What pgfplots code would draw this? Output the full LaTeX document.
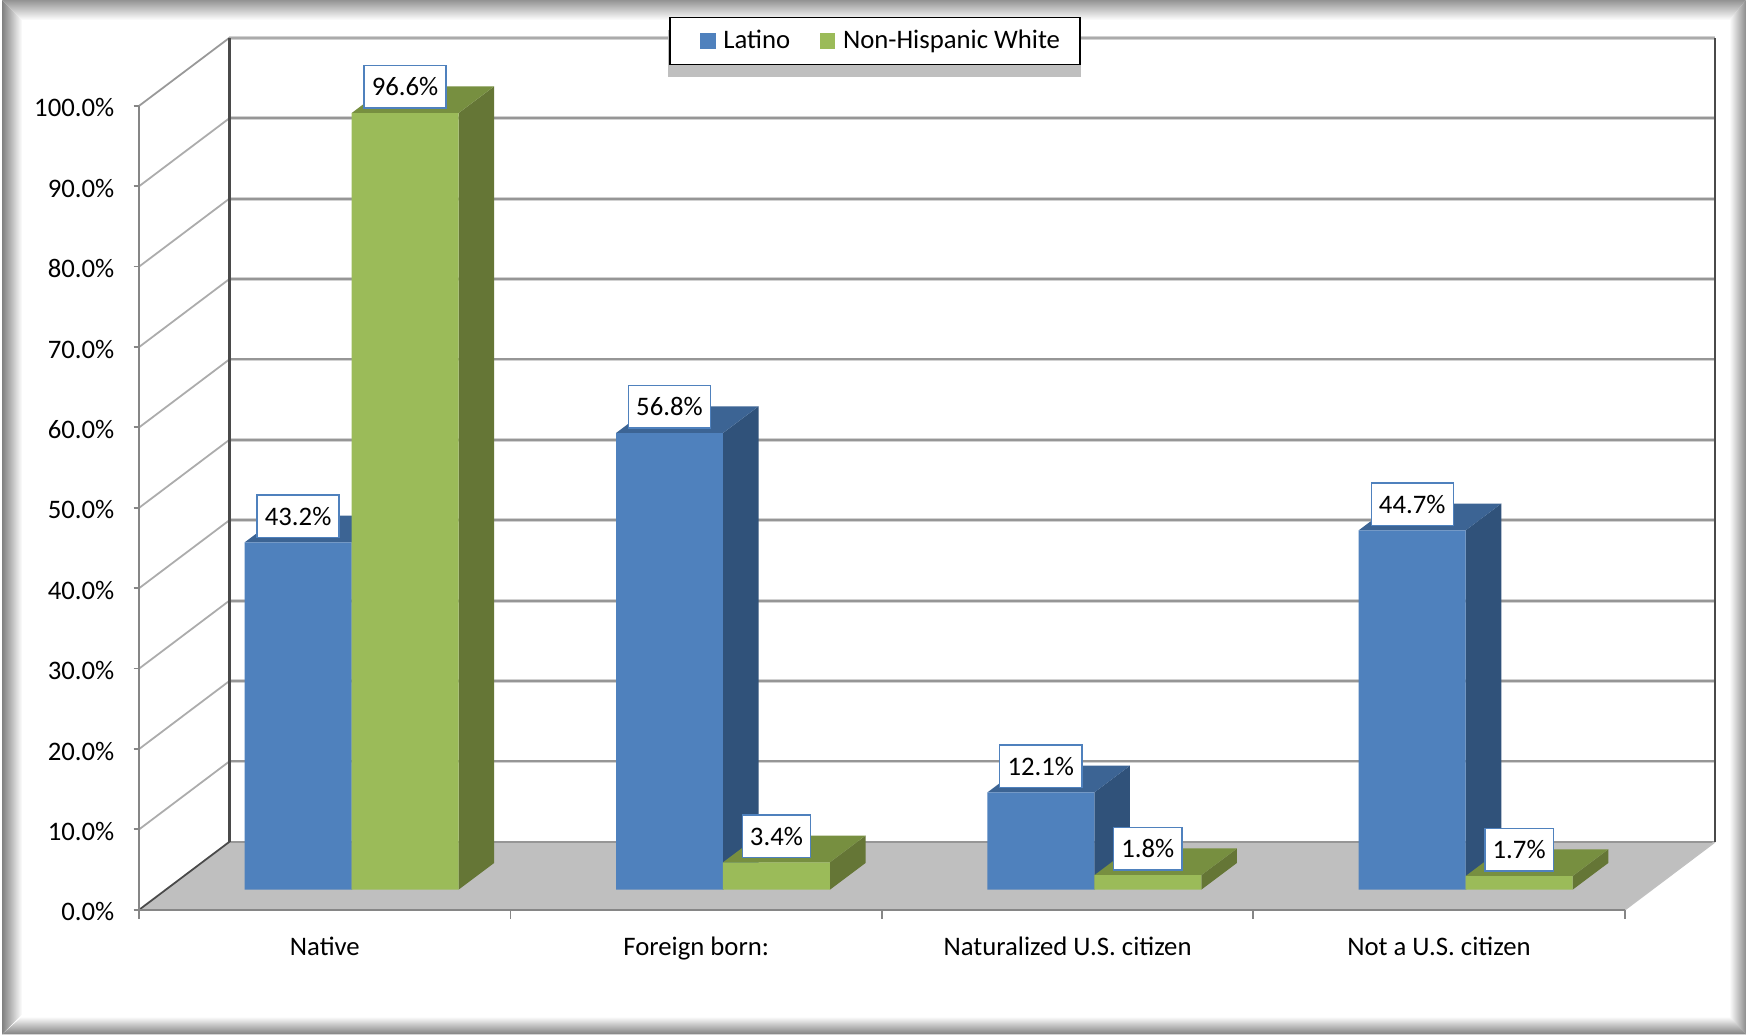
\documentclass[border=0pt,12pt]{standalone}
\usepackage{fontspec}
\setmainfont{Carlito}
\usepackage{pgfplots}
\pgfplotsset{compat=1.18}
\definecolor{blueF}{HTML}{4F81BD}
\definecolor{blueS}{HTML}{30527A}
\definecolor{blueT}{HTML}{3C6494}
\definecolor{greenF}{HTML}{9BBB59}
\definecolor{greenS}{HTML}{657636}
\definecolor{greenT}{HTML}{778F40}
\definecolor{floorc}{HTML}{BFBFBF}
\definecolor{gridc}{HTML}{969696}
\definecolor{axisc}{HTML}{868686}
\definecolor{darkc}{HTML}{4A4A4A}
\newcommand\face[2]{\addplot[fill=#1,draw=none,forget plot] coordinates {#2} -- cycle;}
\pgfplotsset{
  barstyle/.style={ybar,bar width=0.288,bar shift=0pt,draw=none,
    legend image code/.code={\path (0pt,0pt) (15pt,0pt);\fill[##1,draw=none] (6.5pt,-3.5pt) rectangle (13.5pt,3.5pt);},
    nodes near coords={\pgfmathprintnumber[fixed,fixed zerofill,precision=1,assume math mode=true]{\pgfplotspointmeta}\%},
    every node near coord/.append style={anchor=south,yshift=2pt,fill=white,draw=blueF,line width=0.6pt,
      text=black,inner xsep=3.5pt,inner ysep=0pt,minimum height=19pt}},
}
\begin{document}
\begin{tikzpicture}
\useasboundingbox (-62.5pt,-56pt) rectangle (721.5pt,408.5pt);
% frame: inner shadow with mitred corners
\fill[white] (-62.5pt,-56pt) rectangle (721.5pt,408.5pt);
\begin{scope}
  \clip (-61.6pt,-56pt) -- (-52.6pt,-47pt) -- (-52.6pt,399.5pt) -- (-61.6pt,408.5pt) -- cycle;
  \shade[left color=gray,right color=white] (-61.6pt,-56pt) rectangle (-52.6pt,408.5pt);
\end{scope}
\begin{scope}
  \clip (721.5pt,-56pt) -- (714pt,-48.5pt) -- (714pt,399.5pt) -- (721.5pt,408.5pt) -- cycle;
  \shade[left color=white,right color=gray!90] (714pt,-56pt) rectangle (721.5pt,408.5pt);
\end{scope}
\begin{scope}
  \clip (-61.6pt,408.5pt) -- (721.5pt,408.5pt) -- (714pt,399.5pt) -- (-52.6pt,399.5pt) -- cycle;
  \shade[top color=gray!85,bottom color=white] (-62.5pt,399.5pt) rectangle (721.5pt,408.5pt);
\end{scope}
\begin{scope}
  \clip (-61.6pt,-56pt) -- (721.5pt,-56pt) -- (714pt,-48pt) -- (-52.6pt,-48pt) -- cycle;
  \shade[top color=white,bottom color=gray] (-62.5pt,-56pt) rectangle (721.5pt,-48pt);
\end{scope}
% floor
\fill[floorc] (0pt,0pt) -- (667pt,0pt) -- (707.5pt,30.5pt) -- (40.5pt,30.5pt) -- cycle;
% walls
\foreach \k in {1,...,9}{
  \draw[gray!35,line width=1.7pt] (40.5pt,{\k*36.1pt+30.5pt}) -- (707.5pt,{\k*36.1pt+30.5pt});
  \draw[gridc,line width=0.9pt] (40.5pt,{\k*36.1pt+30.5pt}) -- (707.5pt,{\k*36.1pt+30.5pt});
  \draw[gray!65,line width=0.8pt] (0pt,{\k*36.1pt}) -- (40.5pt,{\k*36.1pt+30.5pt});
}
\draw[gray!35,line width=1.7pt] (40.5pt,391.5pt) -- (707.5pt,391.5pt);
\draw[gridc!80,line width=0.9pt] (40.5pt,391.5pt) -- (707.5pt,391.5pt);
\draw[gridc,line width=0.9pt] (40.5pt,30.5pt) -- (707.5pt,30.5pt);
\draw[gridc!60,line width=0.8pt] (667pt,0pt) -- (707.5pt,30.5pt);
\draw[gray!80,line width=0.8pt] (0pt,361pt) -- (40.5pt,391.5pt);
\draw[darkc,line width=0.8pt] (0pt,0pt) -- (40.5pt,30.5pt);
\draw[darkc,line width=1.2pt] (40.5pt,30.5pt) -- (40.5pt,391.5pt);
\draw[darkc,line width=0.9pt] (707.5pt,30.5pt) -- (707.5pt,391.5pt);
% legend shadow
\fill[floorc] (237.5pt,374pt) rectangle (423pt,395pt);
% front axis
\begin{axis}[
  at={(0pt,0pt)},anchor=south west,
  width=667pt,height=361pt,scale only axis,clip=false,
  xmin=0,xmax=4,ymin=0,ymax=100,
  axis x line=bottom,axis y line=left,
  axis line style={-,draw=axisc,line width=0.9pt},
  tick align=outside,
  xtick={0.5,1.5,2.5,3.5},
  xticklabels={Native,Foreign born:,Naturalized U.S. citizen,Not a U.S. citizen},
  minor xtick={0,1,2,3,4},
  major x tick style={draw=none},
  minor tick length=4pt,
  major tick length=2.5pt,
  tick style={draw=axisc,line width=0.8pt},
  ytick={0,10,...,100},
  yticklabel={\pgfmathprintnumber[fixed,fixed zerofill,precision=1,assume math mode=true]{\tick}\%},
  yticklabel style={inner xsep=8.5pt,yshift=-1pt},
  xticklabel style={yshift=-5.5pt},
]
\end{axis}
% bars
\begin{axis}[
  at={(12pt,9pt)},anchor=south west,
  width=667pt,height=361pt,scale only axis,clip=false,
  xmin=0,xmax=4,ymin=0,ymax=100,hide axis,
  legend columns=2,
  legend cell align=left,
  legend style={at={(0.3388,1.0859)},anchor=north west,draw=black,line width=0.7pt,fill=white,
    inner xsep=7pt,inner ysep=3.5pt,
    /tikz/every even column/.append style={column sep=4.7pt}},
]
% Latino: side and top faces
\face{blueS}{(0.5,0)(0.596,3.324)(0.596,46.524)(0.5,43.2)}
\face{blueT}{(0.212,43.2)(0.5,43.2)(0.596,46.524)(0.308,46.524)}
\face{blueS}{(1.5,0)(1.596,3.324)(1.596,60.124)(1.5,56.8)}
\face{blueT}{(1.212,56.8)(1.5,56.8)(1.596,60.124)(1.308,60.124)}
\face{blueS}{(2.5,0)(2.596,3.324)(2.596,15.424)(2.5,12.1)}
\face{blueT}{(2.212,12.1)(2.5,12.1)(2.596,15.424)(2.308,15.424)}
\face{blueS}{(3.5,0)(3.596,3.324)(3.596,48.024)(3.5,44.7)}
\face{blueT}{(3.212,44.7)(3.5,44.7)(3.596,48.024)(3.308,48.024)}
\addplot[barstyle,fill=blueF] coordinates {(0.356,43.2)(1.356,56.8)(2.356,12.1)(3.356,44.7)};
\addlegendentry{Latino}
% Non-Hispanic White: side and top faces
\face{greenS}{(0.788,0)(0.884,3.324)(0.884,99.924)(0.788,96.6)}
\face{greenT}{(0.5,96.6)(0.788,96.6)(0.884,99.924)(0.596,99.924)}
\face{greenS}{(1.788,0)(1.884,3.324)(1.884,6.724)(1.788,3.4)}
\face{greenT}{(1.5,3.4)(1.788,3.4)(1.884,6.724)(1.596,6.724)}
\face{greenS}{(2.788,0)(2.884,3.324)(2.884,5.124)(2.788,1.8)}
\face{greenT}{(2.5,1.8)(2.788,1.8)(2.884,5.124)(2.596,5.124)}
\face{greenS}{(3.788,0)(3.884,3.324)(3.884,5.024)(3.788,1.7)}
\face{greenT}{(3.5,1.7)(3.788,1.7)(3.884,5.024)(3.596,5.024)}
\addplot[barstyle,fill=greenF] coordinates {(0.644,96.6)(1.644,3.4)(2.644,1.8)(3.644,1.7)};
\addlegendentry{Non-Hispanic White}
\end{axis}
\end{tikzpicture}
\end{document}
